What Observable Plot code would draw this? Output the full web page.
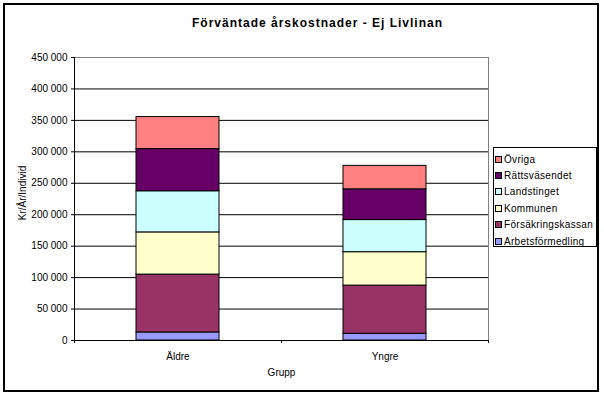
<!DOCTYPE html>
<html><head><meta charset="utf-8">
<script src="https://cdn.jsdelivr.net/npm/d3@7"></script>
<script src="https://cdn.jsdelivr.net/npm/@observablehq/plot@0.6"></script>
<style>
body{margin:0;background:#fff;font-family:Arial,"Liberation Sans",sans-serif;}
#wrap{position:relative;width:604px;height:395px;overflow:hidden;}
#border{position:absolute;left:3px;top:3px;width:596px;height:389px;border:2px solid #000;box-sizing:border-box;pointer-events:none}
#legend{position:absolute;left:493px;top:147px;width:104px;height:100px;border:1px solid #000;box-sizing:border-box;font-size:10px;background:#fff}
.item{position:absolute;left:1px;height:12px;display:flex;align-items:center;white-space:nowrap;letter-spacing:0.3px;color:#000}
.sw{width:5px;height:5px;border:1px solid #000;margin-right:2px;flex:none}
</style></head><body><div id="wrap"></div>
<script>
const titleText = "Förväntade årskostnader - Ej Livlinan";
const yLabel = "Kr/År/Individ";
const xLabel = "Grupp";
const groups = ["Äldre", "Yngre"];
const series = ["Arbetsförmedling", "Försäkringskassan", "Kommunen", "Landstinget", "Rättsväsendet", "Övriga"];
const colors = ["#9999FF", "#993366", "#FFFFCC", "#CCFFFF", "#660066", "#FF8080"];
const aldre = [12800, 92000, 67100, 65400, 67000, 51000];
const yngre = [10700, 76600, 53100, 51100, 48900, 37300];
const yTicks = [0, 50000, 100000, 150000, 200000, 250000, 300000, 350000, 400000, 450000];

const W = 604, H = 395, mL = 74, mR = 116, mT = 57, mB = 55;
const step = (W - mL - mR) / groups.length;
const values = [aldre, yngre];
const data = [];
groups.forEach((g, gi) => series.forEach((s, si) => data.push({group: g, series: s, value: values[gi][si]})));
const fmt = v => d3.format(",")(v).replace(/,/g, " ");
const font = "Arial, 'Liberation Sans', sans-serif";

const chart = Plot.plot({
  width: W, height: H, marginLeft: mL, marginRight: mR, marginTop: mT, marginBottom: mB,
  style: {fontFamily: font, fontSize: "10px", background: "transparent", color: "#000"},
  x: {domain: groups, paddingInner: 0.6, paddingOuter: 0.3, align: 0.5},
  y: {domain: [0, 450000]},
  color: {domain: series, range: colors},
  marks: [
    Plot.frame({stroke: "#808080"}),
    Plot.ruleY(yTicks.slice(1, -1), {stroke: "#000"}),
    Plot.barY(data, {x: "group", y: "value", fill: "series", z: "series", stroke: "#000", strokeWidth: 1}),
    Plot.ruleY([0], {stroke: "#000"}),
    Plot.frame({anchor: "left", stroke: "#000"}),
    Plot.axisY({ticks: yTicks, tickFormat: fmt, tickSize: 3, tickPadding: 4, label: null}),
    Plot.axisX({tickSize: 0, tickPadding: 12, label: null}),
    Plot.ruleX(groups, {x: d => d, dx: -step / 2, y1: 0, y2: 0, insetTop: 3, stroke: "#000"}),
    Plot.ruleX(groups, {x: d => d, dx: step / 2, y1: 0, y2: 0, insetTop: 3, stroke: "#000"}),
    Plot.text([titleText], {frameAnchor: "top", text: d => d, dx: 36, dy: -31, lineAnchor: "bottom", fontWeight: "bold", fontSize: 12}),
    Plot.text([xLabel], {frameAnchor: "bottom", text: d => d, dy: 35, lineAnchor: "bottom", fontSize: 10}),
    Plot.text([yLabel], {frameAnchor: "left", text: d => d, dx: -52, dy: -6, rotate: -90, textAnchor: "middle", fontSize: 10})
  ]
});
d3.select(chart).selectAll("text").filter(function(){ return this.textContent === titleText; }).attr("letter-spacing", "1px");

const wrap = document.getElementById("wrap");
wrap.appendChild(chart);
const legend = document.createElement("div");
legend.id = "legend";
series.slice().reverse().forEach((s, i) => {
  const item = document.createElement("div");
  item.className = "item";
  item.style.top = (5 + i * 16.4) + "px";
  const sw = document.createElement("span");
  sw.className = "sw";
  sw.style.background = colors[series.indexOf(s)];
  const t = document.createElement("span");
  t.textContent = s;
  item.appendChild(sw); item.appendChild(t);
  legend.appendChild(item);
});
wrap.appendChild(legend);
const border = document.createElement("div");
border.id = "border";
wrap.appendChild(border);
</script></body></html>
